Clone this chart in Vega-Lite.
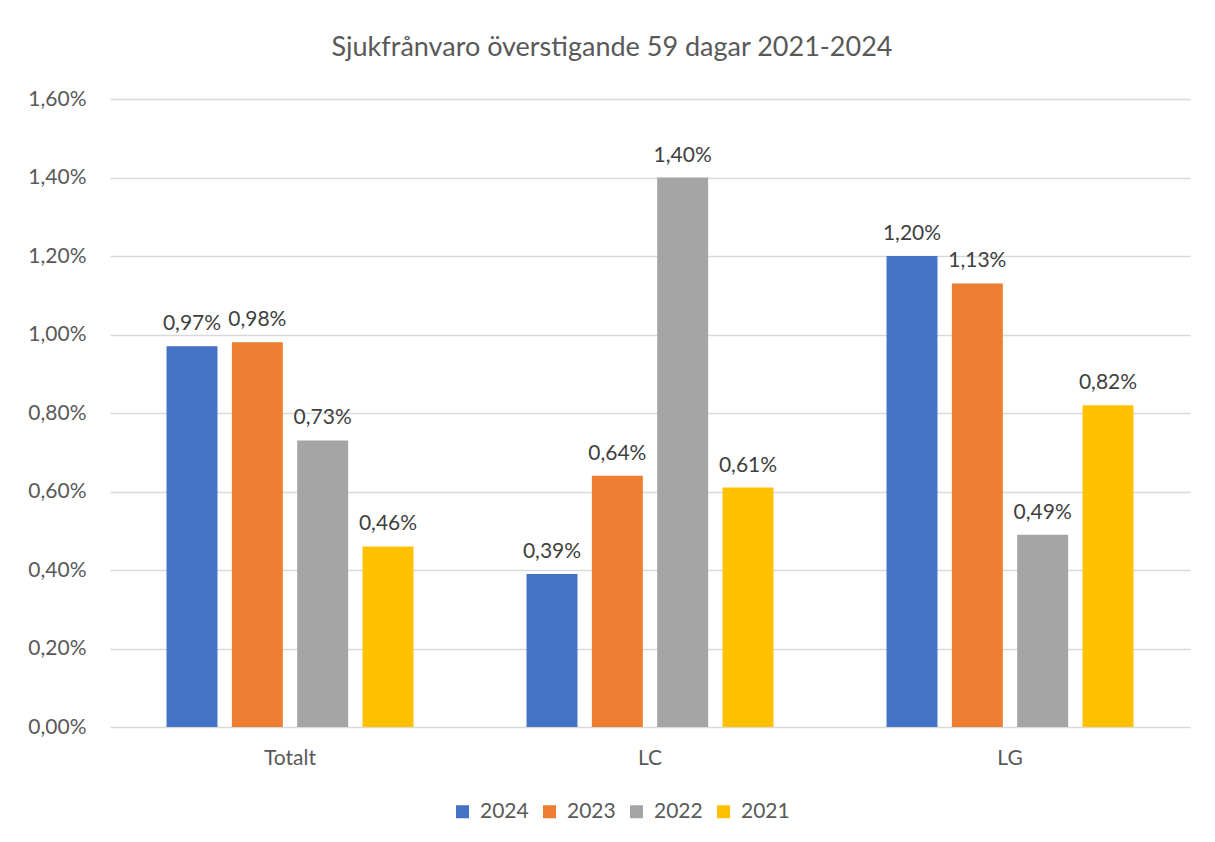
{
  "$schema": "https://vega.github.io/schema/vega-lite/v6.json",
  "width": 1080,
  "height": 628,
  "autosize": {"type": "none"},
  "padding": {"left": 110, "top": 99, "right": 25, "bottom": 115},
  "background": "white",
  "config": {
    "locale": {"number": {"decimal": ",", "thousands": " ", "grouping": [3], "currency": ["", " kr"]}},
    "font": "Lato",
    "view": {"stroke": null},
    "axis": {"labelColor": "#595959", "labelFont": "Lato", "labelFontSize": 21, "grid": false, "ticks": false, "title": null}
  },
  "title": {"text": "Sjukfrånvaro överstigande 59 dagar 2021-2024", "fontSize": 27, "font": "Lato", "fontWeight": "normal", "color": "#595959", "offset": 26, "dx": -38},
  "data": {"values": [
    {"grupp": "Totalt", "ar": "2024", "varde": 0.0097},
    {"grupp": "Totalt", "ar": "2023", "varde": 0.0098},
    {"grupp": "Totalt", "ar": "2022", "varde": 0.0073},
    {"grupp": "Totalt", "ar": "2021", "varde": 0.0046},
    {"grupp": "LC", "ar": "2024", "varde": 0.0039},
    {"grupp": "LC", "ar": "2023", "varde": 0.0064},
    {"grupp": "LC", "ar": "2022", "varde": 0.014},
    {"grupp": "LC", "ar": "2021", "varde": 0.0061},
    {"grupp": "LG", "ar": "2024", "varde": 0.012},
    {"grupp": "LG", "ar": "2023", "varde": 0.0113},
    {"grupp": "LG", "ar": "2022", "varde": 0.0049},
    {"grupp": "LG", "ar": "2021", "varde": 0.0082}
  ]},
  "encoding": {
    "x": {"field": "grupp", "type": "nominal", "sort": ["Totalt", "LC", "LG"],
      "scale": {"paddingInner": 0.314, "paddingOuter": 0.157},
      "axis": {"labelAngle": 0, "labelPadding": 20, "domain": false}},
    "xOffset": {"field": "ar", "type": "nominal", "sort": ["2024", "2023", "2022", "2021"],
      "scale": {"paddingInner": 0.22, "paddingOuter": 0}},
    "y": {"field": "varde", "type": "quantitative",
      "scale": {"domain": [0, 0.016]},
      "axis": {"values": [0, 0.002, 0.004, 0.006, 0.008, 0.01, 0.012, 0.014, 0.016], "format": ".2%", "grid": true, "gridColor": "#d9d9d9", "gridWidth": 1.3, "domain": false, "labelPadding": 24}}
  },
  "layer": [
    {
      "mark": {"type": "bar"},
      "encoding": {
        "color": {"field": "ar", "type": "nominal", "sort": ["2024", "2023", "2022", "2021"],
          "scale": {"domain": ["2024", "2023", "2022", "2021"], "range": ["#4472C4", "#ED7D31", "#A5A5A5", "#FFC000"]},
          "legend": {"title": null, "orient": "none", "direction": "horizontal", "legendX": 342, "legendY": 702,
            "symbolType": "square", "symbolSize": 169, "symbolStrokeWidth": 0, "labelFontSize": 21, "labelColor": "#595959", "labelFont": "Lato", "labelOffset": 7, "columnPadding": 10}}
      }
    },
    {
      "mark": {"type": "text", "baseline": "bottom", "dy": -12, "fontSize": 21, "color": "#404040", "font": "Lato"},
      "encoding": {"text": {"field": "varde", "type": "quantitative", "format": ".2%"}}
    }
  ]
}
